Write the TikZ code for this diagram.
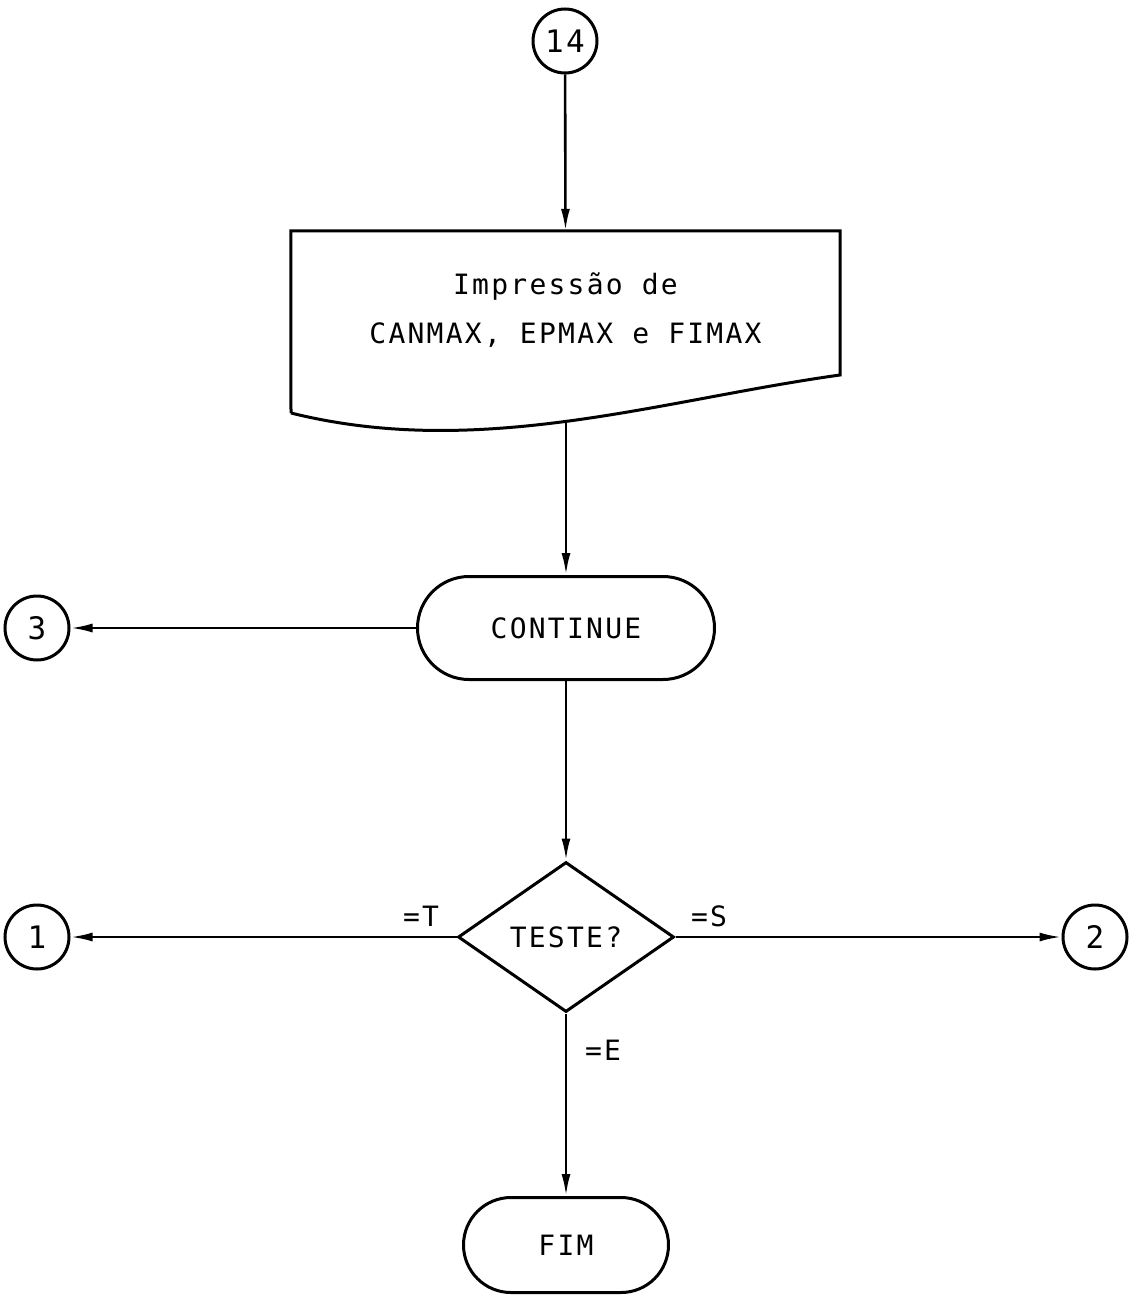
\documentclass[tikz,border=0pt]{standalone}
\usepackage{fontspec}
\newfontfamily\flowfont{DejaVu Sans Mono}[LetterSpace=8]
\usetikzlibrary{shapes.geometric,shapes.misc,arrows.meta}

\tikzset{
  txt/.style={font=\flowfont\fontsize{28}{49}\selectfont},
  outline/.style={draw=black, line width=3pt},
  conn/.style={circle, outline, font=\flowfont\fontsize{31}{36}\selectfont,
               minimum size=64pt, inner sep=0pt},
  term/.style={rounded rectangle, outline, txt, inner sep=0pt},
  decision/.style={diamond, outline, txt, inner sep=0pt,
                   minimum width=216pt, minimum height=150pt},
  arr/.style={draw=black, line width=2.6pt, -{Latex[length=22pt,width=9pt]}},
  lbl/.style={txt, inner sep=0pt}
}

\begin{document}
\begin{tikzpicture}[x=1pt, y=-1pt]
  \useasboundingbox (0,0) rectangle (1139,1295);

  % entry connector
  \node[conn] (c14) at (565,41) {14};

  % printed document
  \node[txt, align=center, minimum width=549pt, minimum height=158pt,
        inner sep=0pt] (doc) at (565.5,310) {Impressão de\\CANMAX, EPMAX e FIMAX};
  \coordinate (dr) at (840,375);
  \coordinate (dl) at (291,413);
  \coordinate (docbot) at (566,422);
  \draw[outline, line join=miter] (dl) -- (doc.north west) -- (doc.north east) -- (dr)
        .. controls (660,400) and (480,460) .. (dl);

  % loop end
  \node[term, minimum width=297pt, minimum height=103pt] (cont) at (566,628) {CONTINUE};
  \node[conn] (c3) at (37,628) {3};

  % decision
  \node[decision] (dec) at (566,937) {TESTE?};
  \node[conn] (c1) at (37,937) {1};
  \node[conn] (c2) at (1095,937) {2};

  % end
  \node[term, minimum width=205pt, minimum height=95pt] (fim) at (566,1245) {FIM};

  % connectors
  \draw[arr] (c14) -- (doc.north);
  \draw[arr] (docbot) -- (cont.north);
  \draw[arr] (cont.west) -- (c3.east);
  \draw[arr] (cont.south) -- (dec.north);
  \draw[arr] (dec.west) -- (c1.east);
  \draw[arr] (dec.east) -- (c2.west);
  \draw[arr] (dec.south) -- (fim.north);

  % branch labels
  \node[lbl] (lt) at (421,916) {=T};
  \node[lbl] (ls) at (709,916) {=S};
  \node[lbl] (le) at (603,1050) {=E};
\end{tikzpicture}
\end{document}
